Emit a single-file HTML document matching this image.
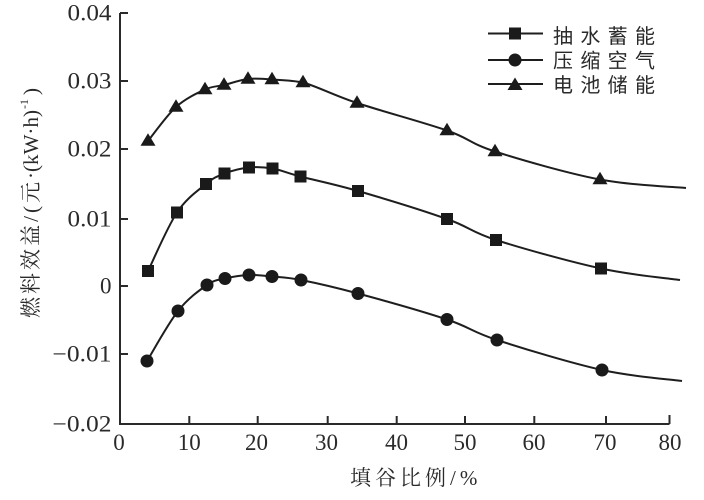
<!DOCTYPE html>
<html>
<head>
<meta charset="utf-8">
<style>
html,body{margin:0;padding:0;background:#fff;}
svg{display:block;}
.tk{font-family:"Liberation Serif",serif;font-size:23px;fill:#2a2a2a;}
.xt{font-family:"Liberation Serif",serif;font-size:23px;fill:#2a2a2a;}
.cj{font-family:"Liberation Serif","Noto Serif CJK SC",serif;fill:#2a2a2a;}
.lg{font-family:"Liberation Sans","Noto Sans CJK SC",sans-serif;font-size:20px;fill:#2a2a2a;}
</style>
</head>
<body>
<svg width="704" height="500" viewBox="0 0 704 500" xmlns="http://www.w3.org/2000/svg">
<rect x="0" y="0" width="704" height="500" fill="#fff"/>

<!-- axes -->
<g stroke="#2a2a2a" stroke-width="2" fill="none">
  <path d="M120,13 V424 H669.5"/>
  <path d="M120,13 H128 M120,81 H128 M120,149 H128 M120,219 H128 M120,286 H128 M120,354 H128"/>
  <path d="M189.3,424 V416 M257.7,424 V416 M327.7,424 V416 M396.7,424 V416 M465,424 V416 M534.3,424 V416 M606,424 V416 M669.5,424 V415"/>
</g>

<!-- y tick labels -->
<g class="tk" text-anchor="end">
  <text x="111.5" y="20.5" textLength="44" lengthAdjust="spacingAndGlyphs">0.04</text>
  <text x="111.5" y="88.5" textLength="44" lengthAdjust="spacingAndGlyphs">0.03</text>
  <text x="111.5" y="156.5" textLength="44" lengthAdjust="spacingAndGlyphs">0.02</text>
  <text x="111.5" y="226.5" textLength="44" lengthAdjust="spacingAndGlyphs">0.01</text>
  <text x="111.5" y="293.5">0</text>
  <text x="111.5" y="361.5" textLength="59" lengthAdjust="spacingAndGlyphs">−0.01</text>
  <text x="111.5" y="431.5" textLength="59" lengthAdjust="spacingAndGlyphs">−0.02</text>
</g>

<!-- x tick labels -->
<g class="xt" text-anchor="middle">
  <text x="119" y="450">0</text>
  <text x="189.3" y="450">10</text>
  <text x="256.5" y="450">20</text>
  <text x="326.5" y="450">30</text>
  <text x="396.5" y="450">40</text>
  <text x="465" y="450">50</text>
  <text x="534" y="450">60</text>
  <text x="605" y="450">70</text>
  <text x="670" y="450">80</text>
</g>

<!-- x title -->
<text class="cj" x="350" y="485" font-size="21" letter-spacing="4">填谷比例/%</text>

<!-- y title (rotated) -->
<g transform="translate(38,0) rotate(-90)">
  <text class="cj" x="-318" y="0" font-size="21" textLength="146" lengthAdjust="spacing">燃料效益/(元·</text>
  <text class="cj" x="-172" y="0" font-size="21" textLength="62" lengthAdjust="spacing">(kW·h)</text>
  <text class="cj" x="-109" y="-10" font-size="12">-1</text>
  <text class="cj" x="-95" y="0" font-size="21">)</text>
</g>

<!-- curves -->
<g stroke="#1e1e1e" stroke-width="2" fill="none">
  <path d="M148,141 C152.67,135.33 166.5,115.58 176,107 C185.5,98.42 197,93.17 205,89.5 C213,85.83 216.83,86.75 224,85 C231.17,83.25 240,79.92 248,79 C256,78.08 262.83,78.92 272,79.5 C281.17,80.08 292,80.2 303,82.5 C317.17,86.42 333,95 357,103 C381,111 424,122.42 447,130.5 C470,138.58 469.5,143.33 495,151.5 C520.5,159.67 568.17,173.42 600,179.5 C631.83,185.58 671.67,186.58 686,188"/>
  <path d="M148,271 C152.83,261.25 167.33,227 177,212.5 C186.67,198 198.08,190.5 206,184 C213.92,177.5 217.33,176.25 224.5,173.5 C231.67,170.75 241,168.33 249,167.5 C257,166.67 263.92,167 272.5,168.5 C281.08,170 286.25,172.75 300.5,176.5 C314.75,180.25 333.58,183.92 358,191 C382.42,198.08 424,210.83 447,219 C470,227.17 470.33,231.75 496,240 C521.67,248.25 570.33,261.83 601,268.5 C631.67,275.17 666.83,278.08 680,280"/>
  <path d="M147,361 C152.17,352.67 168,323.67 178,311 C188,298.33 199.17,290.42 207,285 C214.83,279.58 218,280.17 225,278.5 C232,276.83 241.17,275.33 249,275 C256.83,274.67 263.33,275.67 272,276.5 C280.67,277.33 286.67,277.17 301,280 C315.33,282.83 333.67,286.92 358,293.5 C382.33,300.08 423.83,311.75 447,319.5 C470.17,327.25 471.17,331.58 497,340 C522.83,348.42 571.17,363.17 602,370 C632.83,376.83 668.67,379.17 682,381"/>
</g>

<!-- markers -->
<g fill="#1a1a1a">
  <polygon points="148,133.25 140.5,145.75 155.5,145.75"/>
  <polygon points="176,99.25 168.5,111.75 183.5,111.75"/>
  <polygon points="205,81.75 197.5,94.25 212.5,94.25"/>
  <polygon points="224,77.25 216.5,89.75 231.5,89.75"/>
  <polygon points="248,71.25 240.5,83.75 255.5,83.75"/>
  <polygon points="272,71.75 264.5,84.25 279.5,84.25"/>
  <polygon points="303,74.75 295.5,87.25 310.5,87.25"/>
  <polygon points="357,95.25 349.5,107.75 364.5,107.75"/>
  <polygon points="447,122.75 439.5,135.25 454.5,135.25"/>
  <polygon points="495,143.75 487.5,156.25 502.5,156.25"/>
  <polygon points="600,171.75 592.5,184.25 607.5,184.25"/>

  <rect x="142" y="265" width="12" height="12"/>
  <rect x="171" y="206.5" width="12" height="12"/>
  <rect x="200" y="178" width="12" height="12"/>
  <rect x="218.5" y="167.5" width="12" height="12"/>
  <rect x="243" y="161.5" width="12" height="12"/>
  <rect x="266.5" y="162.5" width="12" height="12"/>
  <rect x="294.5" y="170.5" width="12" height="12"/>
  <rect x="352" y="185" width="12" height="12"/>
  <rect x="441" y="213" width="12" height="12"/>
  <rect x="490" y="234" width="12" height="12"/>
  <rect x="595" y="262.5" width="12" height="12"/>

  <circle cx="147" cy="361" r="6.5"/>
  <circle cx="178" cy="311" r="6.5"/>
  <circle cx="207" cy="285" r="6.5"/>
  <circle cx="225" cy="278.5" r="6.5"/>
  <circle cx="249" cy="275" r="6.5"/>
  <circle cx="272" cy="276.5" r="6.5"/>
  <circle cx="301" cy="280" r="6.5"/>
  <circle cx="358" cy="293.5" r="6.5"/>
  <circle cx="447" cy="319.5" r="6.5"/>
  <circle cx="497" cy="340" r="6.5"/>
  <circle cx="602" cy="370" r="6.5"/>
</g>

<!-- legend -->
<g stroke="#1e1e1e" stroke-width="2">
  <line x1="488" y1="33.5" x2="543" y2="33.5"/>
  <line x1="488" y1="60" x2="543" y2="60"/>
  <line x1="488" y1="84" x2="543" y2="84"/>
</g>
<g fill="#1a1a1a">
  <rect x="509" y="27.5" width="12" height="12"/>
  <circle cx="515" cy="60" r="6.5"/>
  <polygon points="515,77.5 507.5,90 522.5,90"/>
</g>
<g class="lg">
  <text x="553" y="43" textLength="102" lengthAdjust="spacing">抽水蓄能</text>
  <text x="553" y="67.5" textLength="102" lengthAdjust="spacing">压缩空气</text>
  <text x="553" y="92" textLength="102" lengthAdjust="spacing">电池储能</text>
</g>
</svg>
</body>
</html>
